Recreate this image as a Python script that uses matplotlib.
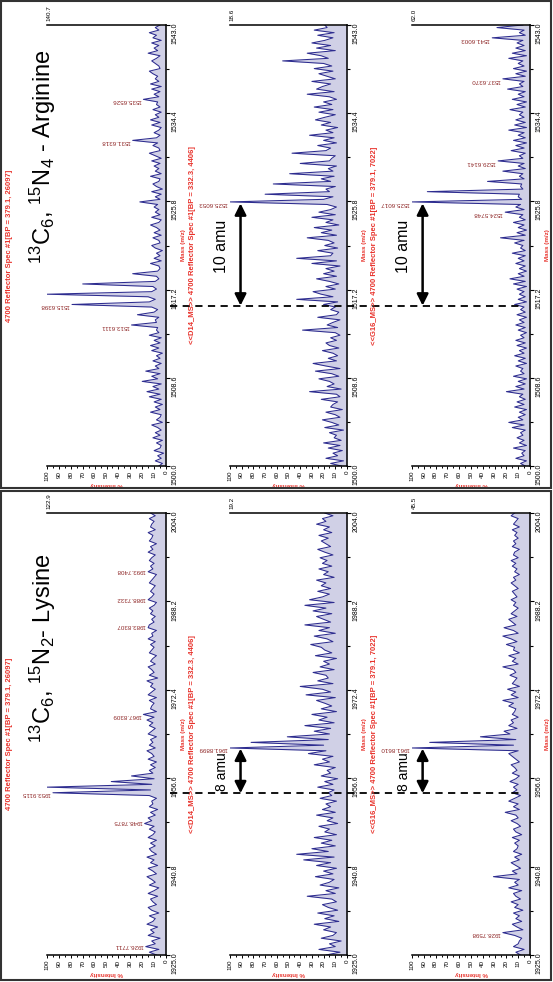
import numpy as np
import matplotlib.pyplot as plt
from matplotlib.patches import Rectangle
from matplotlib.lines import Line2D
from matplotlib.transforms import blended_transform_factory

plt.rcParams['font.family'] = ['Liberation Sans', 'DejaVu Sans']
plt.rcParams['mathtext.fontset'] = 'custom'
plt.rcParams['mathtext.rm'] = 'Liberation Sans'
plt.rcParams['mathtext.it'] = 'Liberation Sans:italic'

# ---- data -------------------------------------------------------------
arg_mz = np.arange(1500.0, 1543.001, 0.25)
lys_mz = np.arange(1925.0, 2004.001, 0.5)
arg_ticks = [1500.0, 1508.6, 1517.2, 1525.8, 1534.4, 1543.0]
lys_ticks = [1925.0, 1940.8, 1956.6, 1972.4, 1988.2, 2004.0]

# % intensity, arginine spectra (4 points per Da)
arg_plain = [6, 3, 9, 4, 7, 2, 10, 5, 4, 8, 3, 11, 5, 9, 4, 7, 12, 3, 8, 5,
             4, 13, 5, 9, 3, 10, 4, 14, 5, 16, 6, 11, 4, 20, 7, 12, 5, 17, 6, 9,
             4, 11, 5, 8, 3, 12, 6, 13, 5, 10, 4, 14, 6, 8, 7, 29, 8, 9, 6, 24,
             10, 7, 12, 79, 14, 9, 15, 100, 12, 8, 11, 70, 9, 6, 8, 28, 7, 5, 6, 13,
             4, 10, 5, 8, 3, 9, 12, 5, 6, 11, 4, 10, 5, 8, 13, 6, 4, 12, 5, 9,
             6, 10, 7, 22, 5, 9, 4, 12, 3, 8, 11, 6, 5, 13, 4, 9, 6, 10, 5, 12,
             4, 9, 14, 5, 6, 11, 7, 28, 8, 5, 10, 6, 4, 12, 5, 13, 6, 9, 4, 11,
             5, 8, 7, 19, 6, 10, 5, 12, 4, 13, 6, 9, 7, 11, 14, 5, 6, 9, 12, 8,
             5, 15, 7, 10, 6, 12, 4, 11, 8, 14, 6, 9, 5]
arg_d14 = [5, 14, 3, 18, 8, 12, 4, 16, 6, 20, 5, 11, 9, 15, 3, 19, 7, 13, 21, 6,
           10, 18, 4, 14, 12, 8, 22, 6, 9, 32, 5, 17, 11, 15, 24, 7, 13, 27, 6, 18,
           29, 9, 16, 8, 12, 21, 7, 15, 18, 9, 14, 6, 10, 38, 8, 17, 12, 6, 25, 9,
           7, 14, 10, 20, 8, 43, 12, 22, 29, 10, 18, 7, 15, 26, 9, 20, 11, 18, 6, 30,
           9, 43, 14, 12, 25, 8, 19, 11, 16, 34, 9, 22, 13, 28, 7, 18, 12, 30, 10, 24,
           14, 9, 17, 100, 20, 12, 70, 15, 18, 10, 63, 14, 22, 11, 49, 12, 16, 9, 40, 15,
           13, 10, 47, 18, 14, 25, 9, 20, 11, 32, 12, 18, 8, 22, 14, 27, 19, 10, 24, 12,
           28, 13, 20, 9, 15, 34, 11, 26, 21, 14, 30, 10, 17, 24, 12, 28, 13, 20, 55, 16,
           22, 34, 10, 26, 14, 30, 19, 12, 25, 11, 28, 17, 19]
arg_g16 = [4, 8, 3, 12, 5, 7, 4, 14, 3, 9, 5, 11, 6, 8, 4, 15, 5, 18, 6, 10,
           4, 9, 3, 13, 5, 11, 4, 9, 6, 20, 5, 12, 4, 10, 3, 14, 5, 8, 6, 12,
           3, 10, 4, 13, 5, 9, 3, 11, 4, 12, 5, 8, 3, 10, 4, 12, 5, 9, 3, 11,
           4, 8, 5, 13, 3, 10, 4, 9, 5, 11, 3, 14, 4, 17, 5, 10, 3, 9, 4, 12,
           5, 10, 4, 15, 4, 8, 6, 13, 5, 25, 4, 11, 3, 10, 5, 14, 4, 9, 6, 21,
           5, 12, 8, 100, 7, 10, 9, 87, 6, 8, 7, 36, 5, 9, 6, 23, 4, 10, 5, 27,
           6, 9, 4, 16, 5, 12, 3, 14, 4, 10, 5, 18, 3, 13, 4, 12, 5, 9, 6, 17,
           4, 11, 3, 15, 5, 10, 4, 19, 6, 9, 5, 23, 4, 12, 3, 14, 5, 10, 6, 18,
           3, 15, 4, 12, 5, 11, 6, 32, 4, 9, 5, 28, 6]

# % intensity, lysine spectra (2 points per Da)
lys_plain = [8, 14, 6, 17, 9, 12, 5, 15, 10, 13, 7, 16, 11, 9, 14, 6, 12, 15, 8, 11,
             13, 7, 15, 10, 6, 14, 9, 12, 16, 8, 11, 15, 7, 13, 10, 16, 8, 12, 14, 9,
             13, 8, 15, 11, 9, 14, 10, 18, 12, 15, 9, 13, 7, 14, 11, 12, 8, 14, 95, 13,
             100, 12, 46, 10, 29, 11, 14, 9, 13, 8, 15, 10, 12, 16, 9, 14, 11, 13, 8, 15,
             12, 9, 14, 11, 16, 10, 19, 8, 13, 12, 10, 14, 8, 15, 12, 9, 13, 11, 16, 7,
             14, 10, 12, 15, 9, 13, 11, 8, 14, 12, 10, 13, 9, 15, 11, 12, 8, 15, 14, 10,
             12, 9, 13, 11, 14, 10, 8, 15, 12, 10, 13, 11, 9, 14, 12, 10, 8, 15, 11, 13,
             10, 14, 12, 9, 15, 11, 13, 8, 14, 12, 11, 15, 9, 13, 12, 10, 14, 9, 13]
lys_d14 = [18, 6, 24, 10, 15, 5, 22, 12, 9, 20, 14, 28, 7, 19, 11, 25, 8, 16, 21, 9,
           13, 34, 10, 18, 7, 23, 15, 11, 27, 12, 20, 9, 26, 14, 37, 11, 43, 16, 30, 10,
           22, 13, 28, 9, 19, 15, 24, 8, 17, 12, 26, 10, 21, 14, 18, 9, 23, 13, 16, 11,
           25, 12, 19, 8, 22, 14, 17, 10, 28, 15, 21, 12, 33, 18, 100, 20, 82, 16, 51, 15,
           28, 14, 36, 11, 24, 17, 30, 9, 22, 13, 19, 26, 10, 35, 14, 21, 40, 12, 25, 16,
           18, 29, 11, 23, 15, 20, 9, 27, 13, 19, 22, 31, 12, 17, 28, 10, 24, 15, 36, 14,
           20, 26, 13, 29, 18, 36, 11, 32, 21, 15, 25, 14, 22, 18, 26, 11, 20, 16, 24, 13,
           21, 17, 23, 12, 19, 25, 14, 18, 22, 16, 24, 13, 20, 15, 26, 18, 21, 12, 19]
lys_g16 = [8, 12, 5, 14, 10, 9, 7, 13, 23, 6, 11, 15, 7, 12, 9, 14, 6, 13, 10, 16,
           8, 12, 14, 7, 18, 10, 13, 9, 31, 11, 15, 8, 12, 16, 9, 13, 7, 14, 11, 10,
           13, 9, 15, 7, 12, 14, 8, 11, 16, 10, 12, 21, 9, 14, 10, 18, 13, 8, 15, 11,
           14, 10, 17, 12, 9, 15, 11, 13, 16, 9, 12, 15, 18, 10, 100, 14, 85, 12, 42, 17,
           22, 11, 18, 14, 16, 10, 15, 13, 12, 18, 14, 23, 10, 16, 12, 19, 9, 15, 13, 11,
           17, 12, 14, 23, 10, 15, 12, 18, 9, 14, 13, 20, 11, 16, 23, 10, 14, 22, 12, 15,
           18, 11, 16, 13, 10, 14, 12, 16, 11, 13, 15, 10, 13, 16, 12, 14, 9, 13, 11, 15,
           12, 16, 10, 14, 13, 9, 15, 12, 14, 10, 13, 11, 15, 9, 14, 12, 10, 16, 13]

spec_titles = ['4700 Reflector Spec #1[BP = 379.1, 26097]',
               '<<D14_MS>> 4700 Reflector Spec #1[BP = 332.3, 4406]',
               '<<G16_MS>> 4700 Reflector Spec #1[BP = 379.1, 7022]']
arg_scale = ['140.7', '18.6', '62.0']
lys_scale = ['122.9', '19.2', '45.5']
arg_peaks = [[1513.6111, 1515.6398, 1531.6318, 1535.6526], [1525.6053],
             [1524.5748, 1525.6017, 1529.6141, 1537.6370, 1541.6003]]
lys_peaks = [[1926.7711, 1948.7875, 1953.9115, 1967.8309, 1983.8307, 1988.7332, 1993.7408],
             [1961.8899], [1928.7598, 1961.8610]]
# (from, to, label, label position, label size)
arg_shift = (1515.6398, 1525.6053, '10 amu', 1521.4, 11.5)
lys_shift = (1953.9115, 1961.8899, '8 amu', 1957.7, 10)

# ---- figure -----------------------------------------------------------
W, H = 553, 982
fig = plt.figure(figsize=(W / 100, H / 100), dpi=100)
blue = '#2d2c8f'
red = '#e8322b'
dark_red = '#8e2626'


def draw_panel(top, bottom, mz, series, ticks, scales, peaks, shift, heading, head_y):
    lefts = [47, 230, 412]
    rights = [166, 347, 530]
    axes = []
    for i in range(3):
        ax = fig.add_axes([lefts[i] / W, 1 - bottom / H,
                           (rights[i] - lefts[i]) / W, (bottom - top) / H])
        vals = np.array(series[i])
        ax.fill_betweenx(mz, 0, vals, color=blue, alpha=0.22, lw=0)
        ax.plot(vals, mz, color=blue, lw=0.75)
        ax.set_xlim(100, 0)
        ax.set_ylim(ticks[0], ticks[-1])
        ax.spines['left'].set_visible(False)
        for s in ['right', 'top', 'bottom']:
            ax.spines[s].set_linewidth(1.1)
        ax.yaxis.tick_right()
        ax.set_yticks(ticks)
        ax.set_yticks(np.array(ticks[:-1]) + np.diff(ticks) / 2, minor=True)
        ax.set_yticklabels(['%.1f' % t for t in ticks])
        ax.set_xticks(np.arange(0, 101, 10))
        ax.set_xticks(np.arange(5, 100, 10), minor=True)
        ax.tick_params(axis='y', which='both', labelrotation=90, labelsize=5,
                       length=3, width=0.8, pad=1)
        ax.tick_params(axis='y', which='minor', length=2)
        ax.tick_params(axis='x', which='both', labelrotation=90, labelsize=4.5,
                       length=2.5, width=0.7, pad=1)
        ax.tick_params(axis='x', which='minor', length=1.5)
        ax.yaxis.set_label_position('right')
        ax.set_ylabel('Mass (m/z)', color=red, fontsize=4.5, fontweight='bold',
                      rotation=90, labelpad=1.5)
        ax.set_xlabel('% Intensity', color=red, fontsize=4.5, fontweight='bold',
                      rotation=180, labelpad=0.5)
        ax.text(98, 1.008, scales[i], transform=blended_transform_factory(ax.transData, ax.transAxes),
                rotation=90, ha='center', va='bottom', fontsize=4.5)
        for p in peaks[i]:
            near = np.abs(mz - p) < 0.35
            h = vals[near].max()
            ax.text(h + 2, p, '%.4f' % p, rotation=180, rotation_mode='anchor',
                    ha='left', va='center', fontsize=4.5, color=dark_red, clip_on=False)
        fig.text((lefts[i] - 37) / W, 1 - (top + bottom) / 2 / H, spec_titles[i],
                 rotation=90, ha='center', va='center', fontsize=5.5,
                 fontweight='bold', color=red)
        axes.append(ax)
    lo, hi, txt, txt_pos, txt_size = shift
    for ax in axes[1:]:
        ax.annotate('', xy=(91, hi), xytext=(91, lo), annotation_clip=False,
                    arrowprops=dict(arrowstyle='<|-|>', color='black', lw=1.8,
                                    mutation_scale=17, shrinkA=0, shrinkB=0))
        ax.text(107, txt_pos, txt, rotation=90,
                ha='center', va='center', fontsize=txt_size, clip_on=False)
    trans = blended_transform_factory(fig.transFigure, axes[1].transData)
    fig.add_artist(Line2D([170 / W, 520 / W], [lo, lo], transform=trans,
                          color='black', lw=1.3, ls=(0, (4, 3))))
    fig.text(43 / W, 1 - head_y / H, heading, rotation=90, ha='center',
             va='center', fontsize=17)


draw_panel(25, 466, arg_mz, [arg_plain, arg_d14, arg_g16], arg_ticks, arg_scale,
           arg_peaks, arg_shift, r'$^{13}$C$_{6}$, $^{15}$N$_{4}$ - Arginine', 157)
draw_panel(513, 955, lys_mz, [lys_plain, lys_d14, lys_g16], lys_ticks, lys_scale,
           lys_peaks, lys_shift, r'$^{13}$C$_{6}$, $^{15}$N$_{2}$- Lysine', 648)

# panel frames
for (y0, y1) in [(1, 488), (491, 980)]:
    fig.add_artist(Rectangle((1 / W, 1 - y1 / H), 550 / W, (y1 - y0) / H,
                             transform=fig.transFigure, fill=False,
                             edgecolor='#333333', lw=1.5))

plt.savefig('out.png', dpi=100)
